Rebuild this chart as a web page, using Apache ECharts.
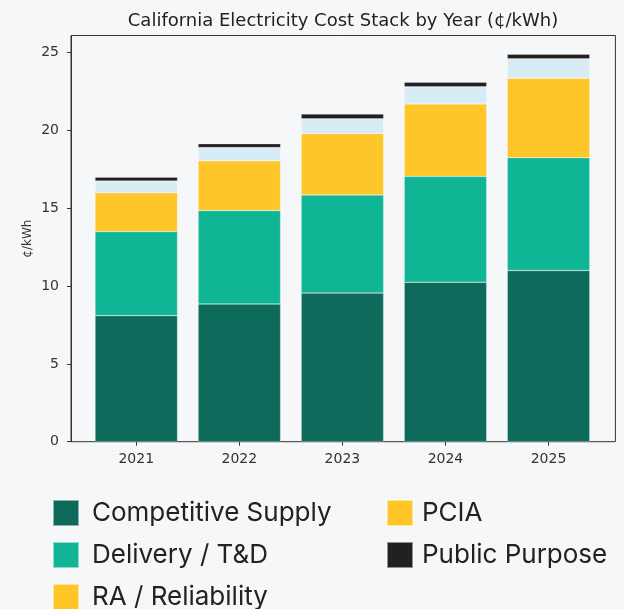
<!DOCTYPE html>
<html>
<head>
<meta charset="utf-8">
<script src="https://cdn.jsdelivr.net/npm/echarts@6/dist/echarts.min.js"></script>
<style>
  html, body { margin: 0; padding: 0; background: #f6f7f9; }
  #costStack { width: 624px; height: 609px; }
</style>
</head>
<body>
<div id="costStack"></div>
<script>
// data, cents per kWh
var years = ['2021', '2022', '2023', '2024', '2025'];
var competitiveSupply = [8.1, 8.85, 9.55, 10.25, 11.0];
var delivery = [5.4, 6.0, 6.3, 6.8, 7.25];
var raReliability = [2.5, 3.2, 3.95, 4.65, 5.1];
var pcia = [0.75, 0.85, 0.95, 1.1, 1.25];
var publicPurpose = [0.25, 0.25, 0.3, 0.3, 0.3];
var yTicks = [0, 5, 10, 15, 20, 25];

var colors = ['#0e6b5c', '#10b595', '#ffc629', '#d8ecf5', '#222020'];

function barSeries(name, vals, color) {
  return {
    name: name,
    type: 'bar',
    stack: 'cost',
    barWidth: '80%',
    xAxisIndex: 0,
    yAxisIndex: 0,
    itemStyle: { color: color, borderColor: 'rgba(255,255,255,0.5)', borderWidth: 0.5 },
    emphasis: { disabled: true },
    data: vals
  };
}

// one legend per entry so the two columns sit where they do in the picture
function legendItem(item, left, top, textGap) {
  return {
    left: left, top: top, padding: 0,
    itemWidth: 26, itemHeight: 26,
    icon: 'rect', selectedMode: false,
    textStyle: { fontFamily: 'Inter', fontSize: 26, color: '#222', padding: [0, 0, 0, textGap] },
    data: [item]
  };
}

var chart = echarts.init(document.getElementById('costStack'));

var axisFont = { fontFamily: 'DejaVu Sans', fontSize: 14, color: '#333' };

chart.setOption({
  backgroundColor: '#f6f7f9',
  animation: false,
  title: {
    text: 'California Electricity Cost Stack by Year (¢/kWh)',
    left: 338,
    textAlign: 'center',
    top: 7,
    textStyle: { fontFamily: 'DejaVu Sans', fontSize: 18, fontWeight: 'normal', color: '#222' }
  },
  grid: [
    // bars: category bands 103px wide
    { left: 84.75, right: 23.95, top: 35.5, bottom: 167.3 },
    // frame + y axis
    { left: 71, right: 8.6, top: 35.5, bottom: 167.3, show: true, borderColor: '#333', borderWidth: 1, backgroundColor: 'transparent' }
  ],
  legend: [
    legendItem('Competitive Supply', 52, 499, 8),
    legendItem('Delivery / T&D', 52, 541, 8),
    legendItem('RA / Reliability', 52, 583, 8),
    legendItem({ name: 'PCIA', itemStyle: { color: colors[2] } }, 386, 499, 4),
    legendItem('Public Purpose', 386, 541, 4)
  ],
  xAxis: [
    {
      type: 'category',
      gridIndex: 0,
      data: years,
      boundaryGap: true,
      axisLine: { show: false },
      axisTick: { show: true, alignWithLabel: true, length: 4, lineStyle: { color: '#333' } },
      axisLabel: Object.assign({ margin: 11 }, axisFont)
    },
    { type: 'value', gridIndex: 1, show: false, min: 0, max: 1 }
  ],
  yAxis: [
    { type: 'value', gridIndex: 0, show: false, min: 0, max: 26.1 },
    {
      type: 'value',
      gridIndex: 1,
      min: 0,
      max: 26.1,
      name: '¢/kWh',
      nameLocation: 'middle',
      nameGap: 37,
      nameMoveOverlap: false,
      nameTextStyle: { fontFamily: 'DejaVu Sans', fontSize: 12, color: '#333' },
      splitLine: { show: false },
      axisLine: { show: true, lineStyle: { color: '#333' } },
      axisTick: { show: true, length: 4, customValues: yTicks, lineStyle: { color: '#333' } },
      axisLabel: Object.assign({ margin: 12, customValues: yTicks }, axisFont)
    }
  ],
  series: [
    barSeries('Competitive Supply', competitiveSupply, colors[0]),
    barSeries('Delivery / T&D', delivery, colors[1]),
    barSeries('RA / Reliability', raReliability, colors[2]),
    barSeries('PCIA', pcia, colors[3]),
    barSeries('Public Purpose', publicPurpose, colors[4])
  ]
});
</script>
</body>
</html>
